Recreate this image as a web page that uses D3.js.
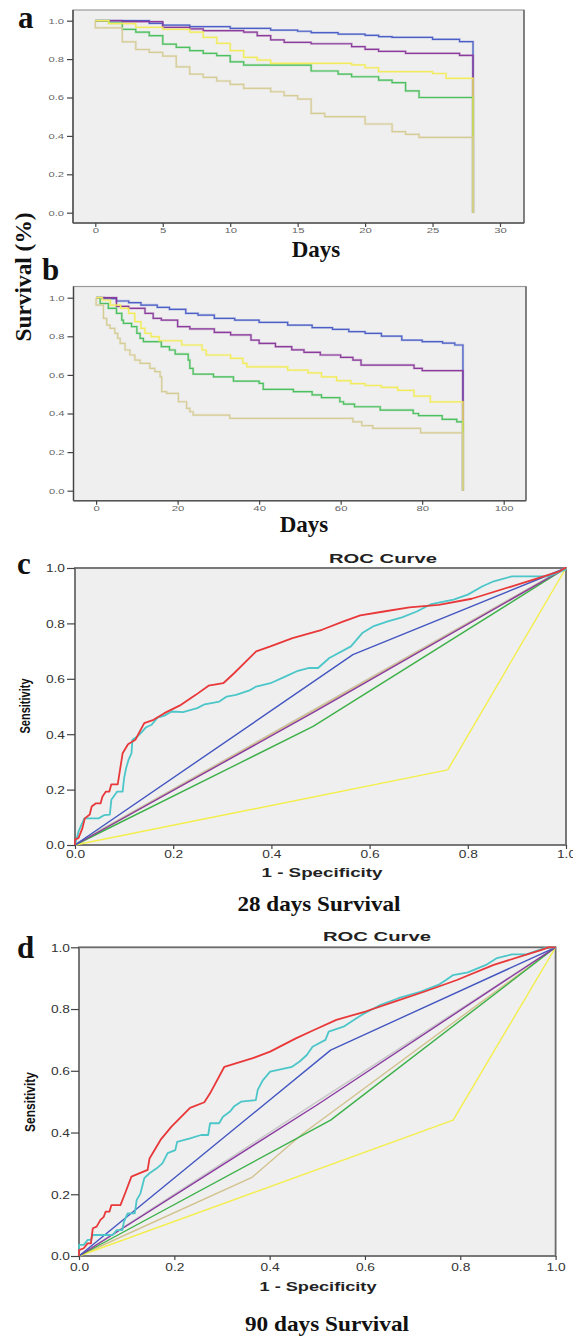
<!DOCTYPE html>
<html><head><meta charset="utf-8">
<script src="https://cdn.jsdelivr.net/npm/d3@7/dist/d3.min.js"></script>
<style>body{margin:0;background:#fff}svg{display:block}</style>
</head><body>
<script>
// ---------- DATA ----------
// Kaplan-Meier 28 days: [day, survival] change points
const kmA_blue   = [[0,1],[4,0.986],[5,0.977],[7,0.969],[10,0.96],[13,0.951],[15,0.945],[16,0.9375],[18,0.93],[20,0.924],[21,0.917],[22,0.913],[25,0.903],[27,0.891]];
const kmA_purple = [[0,1],[2,0.995],[5,0.965],[7,0.957],[8,0.948],[11,0.94],[12,0.922],[13,0.9],[14,0.887],[16,0.88],[19,0.865],[20,0.851],[21,0.84],[23,0.83],[27,0.819]];
const kmA_green  = [[0,1],[1,0.988],[2,0.955],[3,0.94],[4,0.922],[5,0.878],[6,0.861],[7,0.844],[8,0.83],[9,0.818],[10,0.786],[11,0.769],[16,0.738],[18,0.722],[19,0.708],[21,0.69],[22,0.677],[23,0.634],[24,0.6]];
const kmA_yellow = [[0,1],[1,0.985],[3,0.965],[5,0.955],[7,0.94],[8,0.913],[9,0.882],[10,0.844],[11,0.809],[12,0.795],[13,0.778],[19,0.77],[20,0.755],[21,0.735],[25,0.725],[26,0.70]];
const kmA_tan    = [[0,1],[0,0.963],[2,0.89],[3,0.85],[4,0.835],[5,0.816],[6,0.76],[7,0.722],[8,0.705],[9,0.686],[10,0.668],[11,0.648],[13,0.63],[14,0.61],[15,0.592],[16,0.517],[17,0.5],[20,0.462],[22,0.422],[23,0.408],[24,0.392]];
const kmA_end = 28;
const kmA_xticks = [0,5,10,15,20,25,30];

// Kaplan-Meier 90 days
const kmB_blue   = [[0,1],[2,0.995],[5,0.983],[8,0.974],[11,0.962],[15,0.95],[18,0.94],[22,0.919],[25,0.91],[29,0.893],[34,0.884],[40,0.872],[47,0.858],[53,0.845],[58,0.836],[62,0.824],[66,0.815],[70,0.801],[75,0.78],[80,0.772],[85,0.765],[88,0.755]];
const kmB_purple = [[0,1],[5,0.955],[8,0.945],[12,0.919],[14,0.893],[16,0.884],[20,0.85],[23,0.838],[29,0.82],[33,0.807],[38,0.78],[40,0.763],[44,0.746],[48,0.73],[51,0.717],[55,0.703],[60,0.691],[63,0.677],[65,0.651],[78,0.634],[80,0.622]];
const kmB_green  = [[0,1],[1,0.97],[3,0.945],[5,0.919],[6.3,0.884],[6.7,0.867],[8.7,0.85],[10,0.815],[10.8,0.789],[11.6,0.772],[16,0.746],[18,0.729],[19.4,0.708],[22.6,0.677],[23,0.634],[23.8,0.604],[28.8,0.59],[33.7,0.568],[40,0.556],[41,0.525],[48.4,0.513],[53,0.496],[55.3,0.482],[59.8,0.461],[60.7,0.449],[63.4,0.435],[69.7,0.418],[77.8,0.4],[79.1,0.389],[84.9,0.37],[88.5,0.357]];
const kmB_yellow = [[0,1],[1.5,0.988],[3.5,0.962],[6,0.945],[8,0.919],[9.5,0.876],[11,0.841],[12,0.815],[13.5,0.798],[15.5,0.777],[21,0.755],[26,0.729],[27,0.703],[33,0.686],[36,0.66],[37,0.642],[47,0.625],[52,0.61],[55.3,0.59],[59,0.57],[62.5,0.555],[66,0.545],[70,0.535],[74,0.52],[78,0.49],[82,0.46]];
const kmB_tan    = [[0,1],[0,0.962],[1.8,0.893],[2.6,0.858],[3.4,0.841],[4.6,0.815],[5.3,0.79],[5.9,0.763],[7.1,0.729],[8.3,0.703],[9.5,0.677],[10.8,0.66],[13.2,0.634],[14.4,0.617],[15.7,0.59],[16.1,0.513],[17.3,0.504],[20.2,0.461],[22.2,0.427],[23,0.409],[23.8,0.392],[32.8,0.375],[63,0.357],[65.2,0.337],[67.9,0.323],[79.6,0.3]];
const kmB_end = 90;
const kmB_xticks = [0,20,40,60,80,100];

const km_yticks = [0,0.2,0.4,0.6,0.8,1.0];

// ROC 28 days: [1 - specificity, sensitivity]
const rocC_ref    = [[0,0],[1,1]];
const rocC_tan    = [[0,0],[0.5,0.5],[1,1]];
const rocC_yellow = [[0,0],[0.759,0.271],[1,1]];
const rocC_green  = [[0,0],[0.485,0.428],[1,1]];
const rocC_purple = [[0,0],[0.49,0.483],[1,1]];
const rocC_blue   = [[0,0],[0.566,0.687],[1,1]];
const rocC_cyan   = [[0,0],[0.007,0.048],[0.019,0.096],[0.048,0.096],[0.06,0.108],[0.071,0.11],[0.074,0.163],[0.086,0.193],[0.097,0.193],[0.1,0.241],[0.104,0.277],[0.109,0.307],[0.115,0.331],[0.117,0.38],[0.127,0.392],[0.134,0.404],[0.144,0.424],[0.156,0.434],[0.168,0.46],[0.182,0.467],[0.197,0.482],[0.22,0.48],[0.249,0.494],[0.264,0.508],[0.294,0.518],[0.309,0.536],[0.328,0.542],[0.354,0.557],[0.369,0.572],[0.398,0.584],[0.428,0.608],[0.454,0.629],[0.477,0.639],[0.495,0.639],[0.518,0.675],[0.562,0.717],[0.585,0.765],[0.607,0.789],[0.637,0.807],[0.666,0.822],[0.696,0.843],[0.726,0.87],[0.771,0.886],[0.8,0.904],[0.83,0.934],[0.853,0.952],[0.89,0.97],[0.964,0.97],[0.998,0.994],[1,1]];
const rocC_red    = [[0,0],[0,0.02],[0.007,0.025],[0.015,0.06],[0.02,0.096],[0.03,0.11],[0.034,0.139],[0.042,0.15],[0.052,0.15],[0.056,0.175],[0.063,0.193],[0.07,0.193],[0.074,0.219],[0.087,0.219],[0.097,0.331],[0.108,0.364],[0.123,0.38],[0.141,0.44],[0.16,0.452],[0.182,0.476],[0.216,0.506],[0.246,0.542],[0.272,0.575],[0.302,0.584],[0.324,0.62],[0.369,0.699],[0.398,0.717],[0.443,0.747],[0.503,0.777],[0.547,0.807],[0.581,0.829],[0.629,0.843],[0.681,0.858],[0.741,0.867],[0.808,0.889],[0.89,0.934],[0.987,0.988],[0.998,1.0],[1,1]];

// ROC 90 days
const rocD_ref    = [[0,0],[1,1]];
const rocD_tan    = [[0,0],[0.363,0.255],[0.47,0.397],[1,1]];
const rocD_yellow = [[0,0],[0.785,0.44],[1,1]];
const rocD_green  = [[0,0],[0.528,0.44],[1,1]];
const rocD_purple = [[0,0],[0.5,0.49],[1,1]];
const rocD_blue   = [[0,0],[0.528,0.667],[1,1]];
const rocD_cyan   = [[0,0],[0,0.036],[0.01,0.036],[0.018,0.052],[0.025,0.052],[0.029,0.068],[0.071,0.068],[0.079,0.084],[0.091,0.084],[0.094,0.11],[0.102,0.138],[0.117,0.138],[0.121,0.181],[0.129,0.203],[0.137,0.252],[0.148,0.268],[0.163,0.284],[0.175,0.3],[0.186,0.333],[0.202,0.343],[0.206,0.37],[0.233,0.381],[0.256,0.392],[0.271,0.392],[0.275,0.43],[0.294,0.43],[0.302,0.451],[0.317,0.468],[0.325,0.484],[0.34,0.5],[0.371,0.505],[0.375,0.538],[0.386,0.57],[0.401,0.597],[0.447,0.613],[0.463,0.63],[0.478,0.651],[0.49,0.678],[0.517,0.7],[0.524,0.727],[0.555,0.743],[0.593,0.781],[0.632,0.813],[0.67,0.835],[0.716,0.856],[0.754,0.878],[0.77,0.894],[0.785,0.91],[0.816,0.919],[0.854,0.943],[0.877,0.965],[0.908,0.977],[0.939,0.977],[0.977,0.997],[1,1]];
const rocD_red    = [[0,0],[0,0.019],[0.01,0.025],[0.018,0.041],[0.025,0.041],[0.029,0.09],[0.037,0.095],[0.045,0.117],[0.052,0.127],[0.056,0.144],[0.064,0.144],[0.068,0.165],[0.087,0.165],[0.098,0.208],[0.11,0.257],[0.144,0.279],[0.148,0.316],[0.171,0.376],[0.194,0.419],[0.233,0.48],[0.263,0.498],[0.275,0.527],[0.305,0.613],[0.363,0.64],[0.401,0.662],[0.455,0.705],[0.493,0.732],[0.54,0.765],[0.601,0.792],[0.662,0.824],[0.724,0.856],[0.793,0.894],[0.87,0.943],[0.969,0.991],[0.985,1],[1,1]];

const roc_ticks = [0,0.2,0.4,0.6,0.8,1.0];

// ---------- DRAWING ----------
const W = 573, H = 1339;
const svg = d3.select("body").append("svg").attr("width", W).attr("height", H);
const SERIF = "'Liberation Serif','Times New Roman',serif";
const SANS = "'Liberation Sans',Arial,sans-serif";
const C = {blue:"#4b5fc6", purple:"#8a3b9c", green:"#4cbf5e", yellow:"#f2ec5a", tan:"#d6cc96"};

function labelWidth(s, dig, dot){ let w=0; for(const ch of s) w += (ch==='.'? dot : dig); return w; }

function styleTicks(g, fs, col, dig, dot){
  g.select(".domain").remove();
  g.selectAll(".tick line").attr("stroke","#444").attr("stroke-width",1.2);
  g.selectAll(".tick text").attr("font-family",SANS).attr("font-size",fs).attr("fill",col)
    .attr("lengthAdjust","spacingAndGlyphs")
    .attr("textLength", function(){ return labelWidth(this.textContent, dig, dot); });
}

function drawKM(o){
  const g = svg.append("g");
  const x = d3.scaleLinear().domain(o.xd).range(o.xr);
  const y = d3.scaleLinear().domain([0,1]).range(o.yr);
  g.append("rect").attr("x",o.box[0]).attr("y",o.box[1]).attr("width",o.box[2]-o.box[0]).attr("height",o.box[3]-o.box[1])
    .attr("fill","#efefef").attr("stroke","#9a9a9a").attr("stroke-width",1.2);
  g.append("line").attr("x1",o.box[0]).attr("x2",o.box[0]).attr("y1",o.box[1]).attr("y2",o.box[3]).attr("stroke","#444").attr("stroke-width",1.4);
  g.append("line").attr("x1",o.box[0]).attr("x2",o.box[2]).attr("y1",o.box[3]).attr("y2",o.box[3]).attr("stroke","#555").attr("stroke-width",1.4);
  g.append("line").attr("x1",o.box[2]).attr("x2",o.box[2]).attr("y1",o.box[1]).attr("y2",o.box[3]).attr("stroke","#666").attr("stroke-width",1.4);
  const gy = g.append("g").attr("transform",`translate(${o.box[0]},0)`)
    .call(d3.axisLeft(y).tickValues(km_yticks).tickFormat(d3.format(".1f")).tickSize(6).tickPadding(3));
  styleTicks(gy, 7.5, "#666", 6.3, 3);
  gy.selectAll(".tick text").attr("dy","0.32em");
  const gx = g.append("g").attr("transform",`translate(0,${o.box[3]})`)
    .call(d3.axisBottom(x).tickValues(o.xticks).tickSize(4));
  styleTicks(gx, 7.5, "#666", 6.3, 3);
  gx.selectAll(".tick text").attr("y", o.xlab).attr("dy","0.32em");
  const line = d3.line().x(d=>x(d[0])).y(d=>y(d[1])).curve(d3.curveStepAfter);
  o.series.forEach(s=>{
    const last = s.data[s.data.length-1][1];
    const pts = s.data.concat([[o.end,last],[o.end,0]]);
    g.append("path").datum(pts).attr("d",line).attr("fill","none")
      .attr("stroke",s.color).attr("stroke-width",2.4).attr("stroke-opacity",0.3);
    g.append("path").datum(pts).attr("d",line).attr("fill","none")
      .attr("stroke",s.color).attr("stroke-width",1.2);
  });
  g.append("text").attr("x",o.days[0]).attr("y",o.days[1]).attr("text-anchor","middle")
    .attr("font-family",SERIF).attr("font-weight","bold").attr("font-size",23).attr("fill","#111").text("Days");
}

drawKM({box:[73,10,524,223], xd:[0,30], xr:[95.3,500], yr:[212.7,20.7], xticks:kmA_xticks, end:kmA_end, xlab:8,
  days:[316,257],
  series:[{data:kmA_blue,color:C.blue},{data:kmA_purple,color:C.purple},{data:kmA_green,color:C.green},{data:kmA_yellow,color:C.yellow},{data:kmA_tan,color:C.tan}]});
drawKM({box:[73.5,286.5,526,500.7], xd:[0,100], xr:[96.1,503.7], yr:[490.7,297.7], xticks:kmB_xticks, end:kmB_end, xlab:7.5,
  days:[304,532],
  series:[{data:kmB_blue,color:C.blue},{data:kmB_purple,color:C.purple},{data:kmB_green,color:C.green},{data:kmB_yellow,color:C.yellow},{data:kmB_tan,color:C.tan}]});

function drawROC(o){
  const g = svg.append("g");
  const x = d3.scaleLinear().domain([0,1]).range([o.box[0],o.box[2]]);
  const y = d3.scaleLinear().domain([0,1]).range([o.box[3],o.box[1]]);
  g.append("rect").attr("x",o.box[0]).attr("y",o.box[1]).attr("width",o.box[2]-o.box[0]).attr("height",o.box[3]-o.box[1])
    .attr("fill","#efefef").attr("stroke","#6a6a6a").attr("stroke-width",1.8);
  const line = d3.line().x(d=>x(d[0])).y(d=>y(d[1]));
  o.series.forEach(s=>{
    g.append("path").datum(s.data).attr("d",line).attr("fill","none")
      .attr("stroke",s.color).attr("stroke-width",s.w).attr("stroke-linejoin","round");
  });
  const gy = g.append("g").attr("transform",`translate(${o.box[0]},0)`)
    .call(d3.axisLeft(y).tickValues(roc_ticks).tickFormat(d3.format(".1f")).tickSize(8).tickPadding(o.ypad));
  styleTicks(gy, 11, "#333", 7.8, 3.5);
  gy.selectAll(".tick text").attr("dy","0.35em");
  const gx = g.append("g").attr("transform",`translate(0,${o.box[3]})`)
    .call(d3.axisBottom(x).tickValues(roc_ticks).tickFormat(d3.format(".1f")).tickSize(4));
  styleTicks(gx, 11, "#333", 7.8, 3.5);
  gx.selectAll(".tick text").attr("y", o.xlab).attr("dy","0.35em");
  g.append("text").attr("x",o.title[0]).attr("y",o.title[1]).attr("text-anchor","middle")
    .attr("font-family",SANS).attr("font-weight","bold").attr("font-size",12.5).attr("fill","#222")
    .attr("textLength",108).attr("lengthAdjust","spacingAndGlyphs").text("ROC Curve");
  g.append("text").attr("x",o.spec[0]).attr("y",o.spec[1]).attr("text-anchor","middle")
    .attr("font-family",SANS).attr("font-weight","bold").attr("font-size",12).attr("fill","#222")
    .attr("textLength",o.spec[2]).attr("lengthAdjust","spacingAndGlyphs").text("1 - Specificity");
  g.append("text").attr("transform",`translate(${o.sens[0]},${o.sens[1]}) rotate(-90)`).attr("text-anchor","middle")
    .attr("font-family",SANS).attr("font-weight","bold").attr("font-size",14).attr("fill","#111")
    .attr("textLength",o.sens[2]).attr("lengthAdjust","spacingAndGlyphs").text("Sensitivity");
  g.append("text").attr("x",o.cap[0]).attr("y",o.cap[1]).attr("text-anchor","middle")
    .attr("font-family",SERIF).attr("font-weight","bold").attr("font-size",21).attr("fill","#111")
    .attr("textLength",o.cap[2]).attr("lengthAdjust","spacingAndGlyphs").text(o.cap[3]);
}

const R = {ref:"#c9c9c9", tan:"#d2c28e", yellow:"#f3ee4c", green:"#3cb048", purple:"#8a3aa0", blue:"#4456c0", cyan:"#4cc6c8", red:"#e8383a"};
drawROC({box:[75,568,566,845], ypad:2, xlab:9, title:[383,563], spec:[322,877,121], sens:[30,706,55], cap:[319,911,163,"28 days Survival"],
  series:[{data:rocC_ref,color:R.ref,w:2.6},{data:rocC_tan,color:R.tan,w:1.6},{data:rocC_yellow,color:R.yellow,w:1.4},{data:rocC_green,color:R.green,w:1.4},
          {data:rocC_purple,color:R.purple,w:1.4},{data:rocC_blue,color:R.blue,w:1.4},{data:rocC_cyan,color:R.cyan,w:1.8},{data:rocC_red,color:R.red,w:1.8}]});
drawROC({box:[79,947.3,555.6,1256], ypad:1, xlab:11, title:[377,941], spec:[318,1291,117], sens:[35,1102,60], cap:[327,1331,164,"90 days Survival"],
  series:[{data:rocD_ref,color:R.ref,w:1.6},{data:rocD_tan,color:R.tan,w:1.4},{data:rocD_yellow,color:R.yellow,w:1.4},{data:rocD_green,color:R.green,w:1.4},
          {data:rocD_purple,color:R.purple,w:1.4},{data:rocD_blue,color:R.blue,w:1.4},{data:rocD_cyan,color:R.cyan,w:1.8},{data:rocD_red,color:R.red,w:1.8}]});

// Panel letters and shared label
const letters = [["a",18,28],["b",42,280],["c",17,574],["d",17,958]];
letters.forEach(l=>svg.append("text").attr("x",l[1]).attr("y",l[2]).attr("font-family",SERIF).attr("font-weight","bold")
  .attr("font-size",31).attr("fill","#111").text(l[0]));
svg.append("text").attr("transform","translate(31,277) rotate(-90)").attr("text-anchor","middle")
  .attr("font-family",SERIF).attr("font-weight","bold").attr("font-size",23).attr("fill","#111")
  .attr("textLength",129).attr("lengthAdjust","spacingAndGlyphs").text("Survival (%)");
</script>
</body></html>
